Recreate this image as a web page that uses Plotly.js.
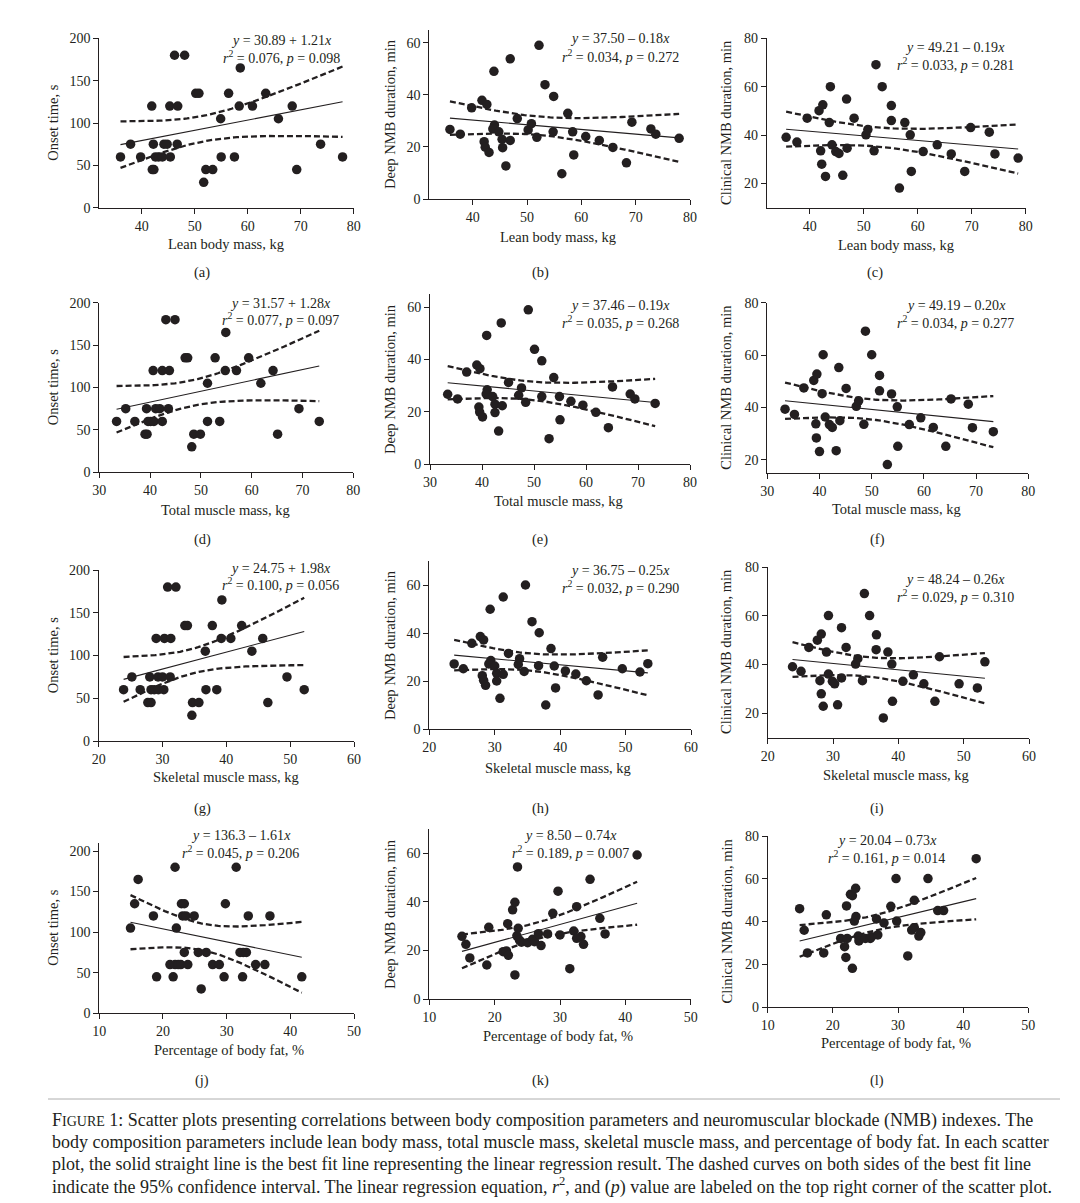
<!DOCTYPE html>
<html><head><meta charset="utf-8">
<script src="https://cdn.plot.ly/plotly-3.0.1.min.js"></script>
<style>html,body{margin:0;padding:0;background:#fff}#chart{width:1080px;height:1203px}</style>
</head><body><div id="chart"></div>
<script>
// ---------- DATA ----------
// Lean body mass panels
const lbmA   = [36.0,37.9,39.8,41.9,42.0,42.3,42.2,42.6,43.2,43.9,44.2,44.8,45.3,45.4,46.2,48.1,46.8,46.7,50.2,50.8,51.7,52.1,53.4,54.9,55.0,56.4,57.5,58.6,58.4,60.9,63.4,65.8,68.4,69.25,73.75,77.9];
const onsetA = [60,75,60,120,45,45,75,60,60,60,75,75,120,60,180,180,120,75,135,135,30,45,45,105,60,135,60,165,120,120,135,105,120,45,75,60];
const lbmB   = [35.8,37.7,39.8,41.7,42.6,42.1,42.3,43.0,43.9,44.0,43.7,44.8,45.4,45.5,46.1,46.9,46.9,48.2,50.2,50.8,51.8,52.2,53.3,54.9,54.8,56.4,57.5,58.4,58.6,60.8,63.3,65.8,68.3,69.3,72.8,73.7,78.0];
const deepB  = [26.7,24.9,35.0,37.9,36.3,22.0,19.9,17.9,49.0,28.4,26.9,25.8,22.9,19.7,12.7,53.8,22.5,30.9,26.5,28.9,23.7,59.0,43.9,39.4,25.8,9.7,32.9,25.8,16.9,24.0,22.5,19.8,13.9,29.5,26.9,24.9,23.3];
const lbmC   = [35.6,37.6,39.5,41.7,42.4,42.0,42.2,42.9,43.8,43.6,44.1,44.8,45.4,46.1,46.8,46.9,48.2,50.4,50.75,51.9,52.25,53.4,55.1,55.1,56.6,57.6,58.6,58.8,61.0,63.6,66.2,68.7,69.8,73.25,74.3,78.6];
const clinC  = [39.1,37.1,47.0,50.1,52.5,33.5,28.0,22.9,60.0,45.2,36.0,33.2,32.4,23.4,54.9,34.6,47.0,40.1,42.3,33.5,69.1,60.0,52.2,46.0,18.1,45.2,40.1,25.0,33.2,36.0,32.2,25.0,43.1,41.2,32.2,30.5];
// Total muscle mass panels
const tmmD   = [33.4,35.2,37.0,39.0,39.4,39.3,39.6,40.1,40.6,40.75,41.1,41.9,42.4,42.4,43.1,43.8,43.6,44.9,46.9,47.4,48.2,48.6,49.9,51.3,51.3,52.8,53.7,54.9,54.8,57.0,59.4,61.8,64.2,65.1,69.3,73.3];
const onsetD = [60,75,60,45,45,75,60,60,120,60,75,75,120,60,180,120,75,180,135,135,30,45,45,105,60,135,60,165,120,120,135,105,120,45,75,60];
const tmmE   = [33.4,35.3,37.05,39.0,39.6,39.4,39.55,40.1,40.9,41.0,40.8,42.05,42.5,42.5,43.2,43.7,43.9,45.1,47.05,47.6,48.4,48.9,50.1,51.5,51.5,52.9,53.8,54.9,55.0,57.1,59.4,61.9,64.3,65.1,68.5,69.4,73.3];
const deepE  = [26.7,24.9,35.2,37.9,36.5,21.8,19.9,18.0,49.2,28.4,26.8,25.8,22.9,19.7,12.6,54.0,22.3,31.2,26.3,29.1,23.6,59.0,43.9,39.5,25.8,9.7,33.1,25.8,16.9,24.0,22.5,19.8,13.9,29.5,26.8,24.9,23.2];
const tmmF   = [33.4,35.2,37.0,38.9,39.5,39.3,39.4,40.0,40.7,40.5,41.1,41.9,42.45,43.2,43.7,43.9,45.1,47.05,47.5,48.5,48.8,50.0,51.5,51.5,53.0,53.8,54.9,55.0,57.2,59.4,61.8,64.2,65.2,68.5,69.3,73.3];
const clinF  = [39.3,37.3,47.4,50.3,52.7,33.7,28.3,23.1,60.1,45.2,36.3,33.4,32.3,23.4,55.2,34.9,47.2,40.4,42.5,33.5,69.1,60.1,52.2,46.3,18.1,45.1,40.2,25.1,33.4,36.0,32.3,25.1,43.2,41.2,32.2,30.7];
// Skeletal muscle mass panels
const smmG   = [23.9,25.2,26.5,27.7,28.2,28.0,28.2,28.7,29.0,29.3,29.35,30.0,30.3,30.2,30.8,31.3,31.2,32.1,33.5,33.9,34.6,34.7,35.7,36.7,36.8,37.8,38.5,39.3,39.2,40.7,42.4,44.0,45.7,46.5,49.5,52.2];
const onsetG = [60,75,60,45,45,75,60,60,120,75,60,75,120,60,180,120,75,180,135,135,30,45,45,105,60,135,60,165,120,120,135,105,120,45,75,60];
const smmH   = [23.8,25.2,26.5,27.8,28.3,28.1,28.3,28.6,29.3,29.4,29.1,30.0,30.3,30.3,30.8,31.3,31.3,32.1,33.6,33.8,34.5,34.7,35.7,36.8,36.7,37.8,38.6,39.1,39.3,40.8,42.4,44.0,45.8,46.5,49.5,52.2,53.4];
const deepH  = [27.1,25.1,35.7,38.5,37.1,22.2,20.3,18.2,49.9,28.5,27.1,26.25,23.2,20.0,12.8,55.0,22.8,31.5,26.9,29.3,24.0,60.0,44.7,40.1,26.4,10.0,33.5,26.25,17.1,24.2,22.9,20.1,14.2,29.9,25.1,23.75,27.2];
const smmI   = [23.8,25.1,26.3,27.6,28.2,28.0,28.2,28.5,29.3,29.0,29.3,29.9,30.25,30.7,31.3,31.3,32.0,33.45,33.8,34.5,34.8,35.6,36.65,36.6,37.7,38.4,39.0,39.1,40.7,42.3,43.9,45.6,46.3,49.3,52.1,53.25];
const clinI  = [39.1,37.2,47.0,50.0,52.5,33.4,28.0,22.9,60.1,45.1,36.1,33.1,32.1,23.5,55.1,34.5,47.0,40.2,42.4,33.4,69.1,60.1,52.2,46.1,18.1,45.1,40.2,24.9,33.1,35.8,32.1,24.9,43.2,32.1,30.4,41.1];
// Percentage of body fat panels
const pbfJ   = [14.9,15.55,16.1,18.5,19.0,21.1,21.6,21.9,21.9,22.1,22.4,22.8,22.9,23.1,23.35,23.35,23.6,23.9,24.9,25.55,26.0,26.8,27.8,28.85,29.6,29.8,31.5,32.1,32.5,32.6,33.1,33.4,34.55,36.0,36.8,41.8];
const onsetJ = [105,135,165,120,45,60,45,60,180,105,60,60,135,120,135,75,120,60,120,75,30,75,60,60,45,135,180,75,45,75,75,120,60,60,120,45];
const pbfK   = [15.0,15.6,16.2,18.8,19.1,21.3,21.8,22.0,22.1,22.75,23.1,23.1,23.4,23.5,23.6,23.8,24.1,25.05,25.8,26.1,26.7,27.1,28.1,28.9,29.7,30.0,31.5,32.1,32.55,32.55,33.2,33.6,34.6,36.1,36.9,41.8];
const deepK  = [25.8,22.5,16.9,14.0,29.5,19.5,19.8,31.0,18.0,36.7,39.8,9.9,26.0,54.4,29.1,24.2,23.4,23.2,24.6,23.6,26.9,22.0,26.8,35.3,44.4,26.4,12.5,28.0,38.0,25.0,25.7,22.5,49.3,33.2,26.8,59.3];
const pbfL   = [14.9,15.6,16.1,18.6,19.0,21.2,21.8,22.1,22.0,22.2,22.7,23.0,23.0,23.3,23.5,23.55,23.9,24.0,25.0,25.75,25.95,26.9,26.7,27.85,28.9,29.7,29.8,31.5,32.1,32.5,32.5,33.2,33.5,34.6,36.1,37.0,42.0];
const clinL  = [46.0,35.9,25.3,25.3,43.1,32.1,28.2,47.3,23.2,32.1,52.7,52.1,18.1,40.2,55.5,42.3,33.2,30.9,32.1,32.1,32.9,33.7,41.2,39.3,47.1,60.1,40.2,23.9,36.0,37.1,49.9,33.2,34.8,60.1,45.1,45.1,69.4];

// Regression fits as drawn (intercept, slope) and reported r^2 (used for the 95% band)
const fitIntercept = [30.89,37.50,49.21,31.57,37.46,49.19,24.75,36.75,48.24,136.3,8.50,20.04];
const fitSlope     = [1.21,-0.18,-0.19,1.28,-0.19,-0.20,1.98,-0.25,-0.26,-1.61,0.74,0.73];
const fitR2        = [0.076,0.034,0.033,0.077,0.035,0.034,0.100,0.032,0.029,0.045,0.189,0.161];

// Printed regression labels
const eqLines = ['30.89 + 1.21','37.50 – 0.18','49.21 – 0.19','31.57 + 1.28','37.46 – 0.19','49.19 – 0.20',
                 '24.75 + 1.98','36.75 – 0.25','48.24 – 0.26','136.3 – 1.61','8.50 – 0.74','20.04 – 0.73'];
const r2Vals  = ['0.076','0.034','0.033','0.077','0.035','0.034','0.100','0.032','0.029','0.045','0.189','0.161'];
const pVals   = ['0.098','0.272','0.281','0.097','0.268','0.277','0.056','0.290','0.310','0.206','0.007','0.014'];
const panelLetters = ['(a)','(b)','(c)','(d)','(e)','(f)','(g)','(h)','(i)','(j)','(k)','(l)'];
const yTitles = ['Onset time, s','Deep NMB duration, min','Clinical NMB duration, min'];
const xTitles = ['Lean body mass, kg','Total muscle mass, kg','Skeletal muscle mass, kg','Percentage of body fat, %'];
const captionLines = [
 'F<span style="font-size:14px">IGURE</span> 1: Scatter plots presenting correlations between body composition parameters and neuromuscular blockade (NMB) indexes. The',
 'body composition parameters include lean body mass, total muscle mass, skeletal muscle mass, and percentage of body fat. In each scatter',
 'plot, the solid straight line is the best fit line representing the linear regression result. The dashed curves on both sides of the best fit line',
 'indicate the 95% confidence interval. The linear regression equation, <i>r</i><sup>2</sup>, and (<i>p</i>) value are labeled on the top right corner of the scatter plot.'
];

// ---------- LAYOUT ----------
const W=1080, H=1203, INK='#231f20';
const SERIF='"Liberation Serif","Times New Roman",Times,serif';
const X=p=>p/W, Y=p=>1-p/H;

const series = [[lbmA,onsetA],[lbmB,deepB],[lbmC,clinC],[tmmD,onsetD],[tmmE,deepE],[tmmF,clinF],
                [smmG,onsetG],[smmH,deepH],[smmI,clinI],[pbfJ,onsetJ],[pbfK,deepK],[pbfL,clinL]];

// plot boxes [left,right,top,bottom] in px, axis ranges, text positions
const cfg = [
 {box:[99.3,353.7,38.3,207.7], xr:[32,80], yr:[0,200], eq:[281,40,56.7],   xt:[226,244],  lt:[202,273],  yt:[52.7,123]},
 {box:[429.3,690,29.7,199],    xr:[32,80], yr:[0,65],  eq:[620,38.3,55.7], xt:[558,237],  lt:[540,273],  yt:[390,114]},
 {box:[766.7,1025.7,38.3,207.7],xr:[32,80],yr:[10,80], eq:[955,47.7,64],   xt:[896,245],  lt:[875,273],  yt:[726,123]},
 {box:[99.3,353.3,302.7,472.3],xr:[30,80], yr:[0,200], eq:[280.5,303.3,319.3], xt:[225,510], lt:[202,539], yt:[52.7,387.5]},
 {box:[430,690,294.2,464],     xr:[30,80], yr:[0,65],  eq:[620,305,322.3], xt:[558,501],  lt:[540,539],  yt:[390,379]},
 {box:[767.3,1028.3,302.7,472.7],xr:[30,80],yr:[15,80],eq:[955.8,305,322.3], xt:[896,509], lt:[877,539], yt:[726,387.7]},
 {box:[98.7,354,570,741],      xr:[20,60], yr:[0,200], eq:[280.7,568.3,584], xt:[226,777], lt:[202,808], yt:[52.7,655.5]},
 {box:[429.3,691,561,729],     xr:[20,60], yr:[0,70],  eq:[620,570,586.7], xt:[558,768],  lt:[540,808],  yt:[390,645]},
 {box:[767.7,1029,567,737.7],  xr:[20,60], yr:[10,80], eq:[955,579,595.7], xt:[896,775],  lt:[877,808],  yt:[726,652]},
 {box:[99.3,354,842.9,1013.3], xr:[10,50], yr:[0,210], eq:[240.5,835,851.7], xt:[229,1050], lt:[202,1080], yt:[52.7,928]},
 {box:[429.3,690.7,829,999],   xr:[10,50], yr:[0,70],  eq:[570.5,835,851.7], xt:[558,1036], lt:[540,1080], yt:[390,914]},
 {box:[767.7,1028.3,836,1007], xr:[10,50], yr:[0,80],  eq:[886.5,840,857.3], xt:[896,1043], lt:[877,1080], yt:[726,921.5]}
];
const xTickSets = [[40,50,60,70,80],[30,40,50,60,70,80],[20,30,40,50,60],[10,20,30,40,50]];
const yTickSets = [[0,50,100,150,200],[0,20,40,60],[20,40,60,80]];
const yTickOverride = {11:[0,20,40,60,80]};

function tcrit(df){const z=1.959964;return z+(z**3+z)/(4*df)+(5*z**5+16*z**3+3*z)/(96*df*df);}
// fitted line a+bx with 95% confidence band; residual SD derived from the reported r^2
function band(xs,a,b,r2){
  const n=xs.length, mx=xs.reduce((p,q)=>p+q,0)/n;
  let sxx=0; for(const x of xs) sxx+=(x-mx)**2;
  const sse=b*b*sxx*(1/r2-1), s=Math.sqrt(sse/(n-2)), t=tcrit(n-2);
  const lo=Math.min(...xs), hi=Math.max(...xs), gx=[], gy=[], up=[], dn=[];
  for(let k=0;k<=80;k++){const x=lo+(hi-lo)*k/80, yh=a+b*x, hw=t*s*Math.sqrt(1/n+(x-mx)**2/sxx);
    gx.push(x); gy.push(yh); up.push(yh+hw); dn.push(yh-hw);}
  return {gx,gy,up,dn};
}

const traces=[], layout={width:W,height:H,margin:{l:0,r:0,t:0,b:0},paper_bgcolor:'#fff',plot_bgcolor:'rgba(0,0,0,0)',
  showlegend:false,font:{family:SERIF,color:INK},annotations:[],shapes:[]};
const ann=(text,x,y,o)=>layout.annotations.push(Object.assign({text,xref:'paper',yref:'paper',x:X(x),y:Y(y),
  xanchor:'center',yanchor:'middle',showarrow:false,font:{family:SERIF,size:14.5,color:INK}},o||{}));

series.forEach(([xs,ys],i)=>{
  const c=cfg[i], n=i+1, xa='x'+(n>1?n:''), ya='y'+(n>1?n:'');
  const row=Math.floor(i/3), col=i%3;
  const axBase={showline:true,linecolor:INK,linewidth:1,ticks:'outside',ticklen:5,tickwidth:1,tickcolor:INK,
    showgrid:false,zeroline:false,fixedrange:true,tickfont:{family:SERIF,size:14,color:INK}};
  layout['xaxis'+(n>1?n:'')]=Object.assign({},axBase,{domain:[X(c.box[0]),X(c.box[1])],range:c.xr,
    tickvals:xTickSets[row],anchor:ya});
  layout['yaxis'+(n>1?n:'')]=Object.assign({},axBase,{domain:[Y(c.box[3]),Y(c.box[2])],range:c.yr,
    tickvals:yTickOverride[i]||yTickSets[col],anchor:xa});
  const f=band(xs,fitIntercept[i],fitSlope[i],fitR2[i]);
  const dash={color:INK,width:2.3,dash:'6px,3px'};
  traces.push({type:'scatter',mode:'lines',x:f.gx,y:f.up,xaxis:xa,yaxis:ya,line:dash,hoverinfo:'skip'});
  traces.push({type:'scatter',mode:'lines',x:f.gx,y:f.dn,xaxis:xa,yaxis:ya,line:dash,hoverinfo:'skip'});
  traces.push({type:'scatter',mode:'lines',x:f.gx,y:f.gy,xaxis:xa,yaxis:ya,line:{color:INK,width:1.1},hoverinfo:'skip'});
  traces.push({type:'scatter',mode:'markers',x:xs,y:ys,xaxis:xa,yaxis:ya,marker:{color:INK,size:9.5,line:{width:0}},cliponaxis:false});
  ann('<i>y</i> = '+eqLines[i]+'<i>x</i>',c.eq[0],c.eq[1],{font:{family:SERIF,size:14,color:INK}});
  ann('<i>r</i><sup>2</sup> = '+r2Vals[i]+', <i>p</i> = '+pVals[i],c.eq[0],c.eq[2],{font:{family:SERIF,size:14,color:INK}});
  ann(xTitles[row],c.xt[0],c.xt[1]);
  ann(yTitles[col],c.yt[0],c.yt[1],{textangle:-90});
  ann(panelLetters[i],c.lt[0],c.lt[1]);
});

layout.shapes.push({type:'line',xref:'paper',yref:'paper',x0:X(48),x1:X(1060),y0:Y(1099),y1:Y(1099),line:{color:'#9a9a9a',width:0.8}});
const capY=[1120,1142,1164,1186];
captionLines.forEach((t,k)=>ann(t,50,capY[k],{xanchor:'left',font:{family:SERIF,size:18,color:INK}}));

Plotly.newPlot('chart',traces,layout,{staticPlot:true,displayModeBar:false});
</script></body></html>
